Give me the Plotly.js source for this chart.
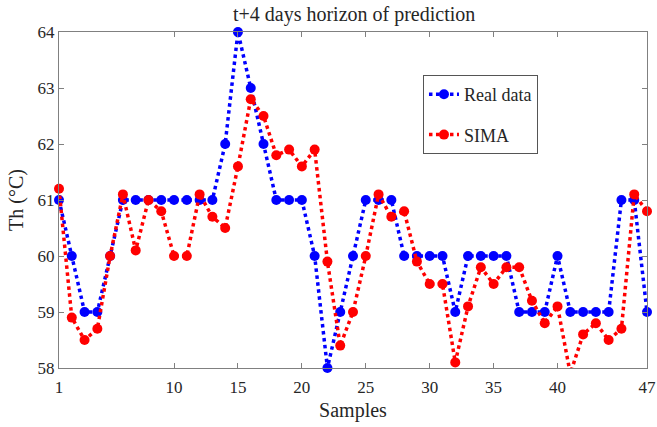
<!DOCTYPE html>
<html>
<head>
<meta charset="utf-8">
<script src="https://cdn.plot.ly/plotly-3.0.1.min.js"></script>
<style>html,body{margin:0;padding:0;background:#fff;}#chart{width:657px;height:427px;}</style>
</head>
<body>
<div id="chart"></div>
<script>
const samples = [];
for (let i = 1; i <= 47; i++) samples.push(i);
const realData = [61,60,59,59,60,61,61,61,61,61,61,61,61,62,64,63,62,61,61,61,60,58,59,60,61,61,61,60,60,60,60,59,60,60,60,60,59,59,59,60,59,59,59,59,61,61,59];
const sima = [61.2,58.9,58.5,58.7,60.0,61.1,60.1,61.0,60.8,60.0,60.0,61.1,60.7,60.5,61.6,62.8,62.5,61.8,61.9,61.6,61.9,59.9,58.4,59.0,60.0,61.1,60.7,60.8,59.9,59.5,59.5,58.1,59.1,59.8,59.5,59.8,59.8,59.2,58.8,59.1,57.9,58.6,58.8,58.5,58.7,61.1,60.8];
const xTicks = [1,10,15,20,25,30,35,40,47];
const yTicks = [58,59,60,61,62,63,64];

const fam = '"Liberation Serif", "Times New Roman", serif';
const txt = '#262626';

const traces = [
  {x: samples, y: realData, name: 'Real data', legendgroup: 'real', mode: 'lines+markers', cliponaxis: false,
   line: {color: '#0000ff', dash: 'dot', width: 3.5}, marker: {color: '#0000ff', size: 10}},
  {x: samples, y: sima, name: 'SIMA', legendgroup: 'sima', mode: 'lines+markers', cliponaxis: false,
   line: {color: '#ff0000', dash: 'dot', width: 3.5}, marker: {color: '#ff0000', size: 10}}
];

const axisCommon = {showline: true, linecolor: '#808080', linewidth: 1, mirror: 'ticks',
  ticks: 'inside', ticklen: 5, tickcolor: '#808080', showgrid: false, zeroline: false,
  tickfont: {family: fam, size: 17, color: txt}};

const layout = {
  width: 657, height: 427,
  margin: {l: 59, r: 10, t: 32, b: 59},
  paper_bgcolor: '#fff', plot_bgcolor: '#fff',
  font: {family: fam, color: txt, size: 17},
  title: {text: 't+4 days horizon of prediction', font: {family: fam, size: 20, color: txt}, x: 0.539, xanchor: 'center', y: 0.968, yanchor: 'middle'},
  xaxis: Object.assign({}, axisCommon, {range: [1, 47], tickvals: xTicks, ticktext: xTicks.map(String),
    ticklabelstandoff: 4,
    title: {text: 'Samples', font: {family: fam, size: 20, color: txt}, standoff: 6}}),
  yaxis: Object.assign({}, axisCommon, {range: [58, 64], tickvals: yTicks, ticktext: yTicks.map(String),
    title: {text: 'Th (°C)', font: {family: fam, size: 20, color: txt}, standoff: 8}}),
  legend: {x: 0.619, y: 0.872, xanchor: 'left', yanchor: 'top', bgcolor: '#fff',
    bordercolor: '#555', borderwidth: 1, font: {family: fam, size: 18, color: txt},
    tracegroupgap: 14, itemwidth: 30},
  showlegend: true
};

Plotly.newPlot('chart', traces, layout, {displayModeBar: false, staticPlot: true});
</script>
</body>
</html>
